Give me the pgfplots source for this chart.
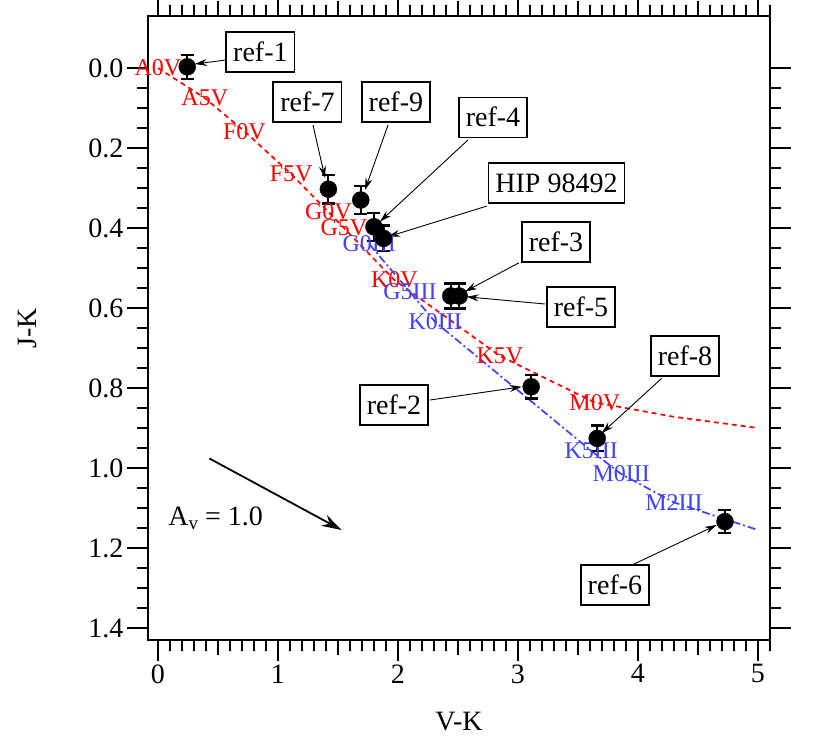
\documentclass[border=0pt]{standalone}
\usepackage{pgfplots}
\pgfplotsset{compat=1.18}
\usepackage{pgfplotstable}
\usepackage{fontspec}
\setmainfont{Liberation Serif}
\usetikzlibrary{arrows.meta}

\definecolor{dwarfred}{RGB}{255,0,0}
\definecolor{giantblue}{RGB}{64,64,255}

% Intrinsic colours of main-sequence dwarfs (V-K, J-K)
\pgfplotstableread{
x     y      lab
0.00  0.000  A0V
0.39  0.075  A5V
0.72  0.158  F0V
1.11  0.265  F5V
1.42  0.360  G0V
1.55  0.400  G5V
1.97  0.530  K0V
2.85  0.720  K5V
3.64  0.836  M0V
4.30  0.872  {}
5.00  0.900  {}
}\dwarfs

% Intrinsic colours of giants
\pgfplotstableread{
x     y      lab
1.76  0.440  G0III
2.10  0.560  G5III
2.31  0.635  K0III
3.61  0.957  K5III
3.86  1.015  M0III
4.30  1.086  M2III
5.00  1.155  {}
}\giants

% Observed stars with J-K uncertainties
\pgfplotstableread{
x      y       e
0.244  -0.003  0.030
1.420  0.303   0.036
1.690  0.330   0.035
1.800  0.397   0.035
1.880  0.426   0.032
2.440  0.570   0.031
2.510  0.570   0.031
3.110  0.797   0.029
3.660  0.926   0.032
4.725  1.134   0.029
}\stars

\tikzset{
  refbox/.style={draw, line width=1.6pt, fill=white, inner xsep=7pt, inner ysep=0pt,
    minimum height=40pt, text height=19pt, text depth=1pt,
    font=\fontsize{28}{30}\selectfont},
  refarrow/.style={line width=0.9pt, -{Stealth[length=12pt, width=7pt]}},
}

\begin{document}
\begin{tikzpicture}
\begin{axis}[
  scale only axis,
  width=622pt, height=624pt,
  xmin=-0.083, xmax=5.1,
  ymin=-0.13, ymax=1.43,
  y dir=reverse,
  clip=false,
  axis line style={line width=2pt},
  tick align=outside,
  tick pos=both,
  major tick length=21pt,
  minor tick length=11pt,
  every tick/.style={black, line width=2pt},
  minor tick style={line width=2pt},
  xtick={0,1,2,3,4,5},
  minor xtick={0.1,0.2,0.3,0.4,0.6,0.7,0.8,0.9,1.1,1.2,1.3,1.4,1.6,1.7,1.8,1.9,2.1,2.2,2.3,2.4,2.6,2.7,2.8,2.9,3.1,3.2,3.3,3.4,3.6,3.7,3.8,3.9,4.1,4.2,4.3,4.4,4.6,4.7,4.8,4.9,5.1},
  extra x ticks={0.5,1.5,2.5,3.5,4.5},
  extra x tick labels={},
  extra x tick style={major tick length=15pt, grid=none},
  ytick={0,0.2,0.4,0.6,0.8,1.0,1.2,1.4},
  minor y tick num=3,
  yticklabel style={/pgf/number format/.cd, fixed, fixed zerofill, precision=1},
  /pgf/number format/assume math mode=true,
  tick label style={font=\fontsize{28}{30}\selectfont},
  xlabel={V-K},
  ylabel={J-K},
  label style={font=\fontsize{28}{30}\selectfont},
  xlabel style={at={(axis description cs:0.5,-0.13)}, anchor=center},
  ylabel style={at={(axis description cs:-0.1945,0.5)}, anchor=center},
]

% dwarf and giant sequences
\addplot[dwarfred, line width=1.7pt, dash pattern=on 5pt off 4pt] table[x=x, y=y] \dwarfs;
\addplot[giantblue, line width=1.7pt, dash pattern=on 8pt off 3pt on 2pt off 3pt] table[x=x, y=y] \giants;

% spectral type labels
\addplot[only marks, mark=none, nodes near coords, point meta=explicit symbolic,
  every node near coord/.style={anchor=center, text=dwarfred, font=\fontsize{24}{26}\selectfont, inner sep=0pt}]
  table[x=x, y=y, meta=lab] \dwarfs;
\addplot[only marks, mark=none, nodes near coords, point meta=explicit symbolic,
  every node near coord/.style={anchor=center, text=giantblue, font=\fontsize{24}{26}\selectfont, inner sep=0pt}]
  table[x=x, y=y, meta=lab] \giants;

% observed stars
\addplot[only marks, mark=*, mark size=8.5pt, black,
  error bars/.cd, y dir=both, y explicit,
  error bar style={line width=2.2pt, black},
  error mark options={mark size=6.5pt, line width=2.4pt, black, rotate=90}]
  table[x=x, y=y, y error=e] \stars;

% reddening vector
\draw[line width=1.8pt, -{Stealth[length=20pt, width=12pt]}] (axis cs:0.428,0.976) -- (axis cs:1.531,1.155);
\node[anchor=base west, font=\fontsize{28}{30}\selectfont] at (axis cs:0.058,1.144)
  {A\raisebox{-4pt}{\fontsize{19}{19}\selectfont v} = 1.0};

% identifications
\draw[refarrow] (axis cs:0.567,-0.02) -- (axis cs:0.308,-0.01);
\draw[refarrow] (axis cs:1.292,0.1425) -- (axis cs:1.392,0.275);
\draw[refarrow] (axis cs:1.917,0.1425) -- (axis cs:1.725,0.305);
\draw[refarrow] (axis cs:2.583,0.18) -- (axis cs:1.85,0.384);
\draw[refarrow] (axis cs:2.742,0.345) -- (axis cs:1.917,0.4218);
\draw[refarrow] (axis cs:3.008,0.487) -- (axis cs:2.558,0.559);
\draw[refarrow] (axis cs:3.225,0.59) -- (axis cs:2.572,0.572);
\draw[refarrow] (axis cs:4.197,0.776) -- (axis cs:3.697,0.913);
\draw[refarrow] (axis cs:2.267,0.83) -- (axis cs:3.031,0.797);
\draw[refarrow] (axis cs:3.95,1.2425) -- (axis cs:4.656,1.1425);

\node[refbox] at (axis cs:0.854,-0.04) {ref-1};
\node[refbox] at (axis cs:1.246,0.085) {ref-7};
\node[refbox] at (axis cs:1.983,0.085) {ref-9};
\node[refbox] at (axis cs:2.792,0.124) {ref-4};
\node[refbox] at (axis cs:3.321,0.2875) {HIP 98492};
\node[refbox] at (axis cs:3.317,0.435) {ref-3};
\node[refbox] at (axis cs:3.525,0.5975) {ref-5};
\node[refbox] at (axis cs:4.392,0.72) {ref-8};
\node[refbox] at (axis cs:1.967,0.8425) {ref-2};
\node[refbox] at (axis cs:3.808,1.2925) {ref-6};
\end{axis}
\pgfresetboundingbox
\path (current axis.south west) ++(-148pt,-96pt) rectangle ++(823pt,736pt);
\end{tikzpicture}
\end{document}
